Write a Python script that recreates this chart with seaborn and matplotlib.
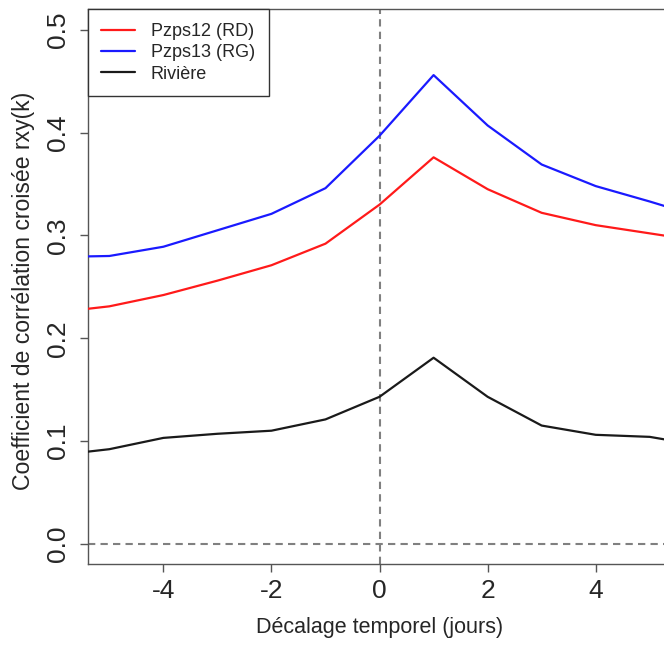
import numpy as np
import pandas as pd
import matplotlib
matplotlib.use('Agg')
import matplotlib.pyplot as plt
import seaborn as sns

# cross-correlation by lag (days)
lags = [-6, -5, -4, -3, -2, -1, 0, 1, 2, 3, 4, 5, 6]
pzps12 = [0.225, 0.231, 0.242, 0.256, 0.271, 0.292, 0.330, 0.376, 0.345, 0.322, 0.310, 0.302, 0.294]
pzps13 = [0.279, 0.280, 0.289, 0.305, 0.321, 0.346, 0.397, 0.456, 0.407, 0.369, 0.348, 0.333, 0.317]
riviere = [0.086, 0.092, 0.103, 0.107, 0.110, 0.121, 0.143, 0.181, 0.143, 0.115, 0.106, 0.104, 0.095]

series_names = ['Pzps12 (RD)', 'Pzps13 (RG)', 'Rivière']
series_colors = ['#ff1a1a', '#1a1aff', '#1a1a1a']
x_ticks = [-4, -2, 0, 2, 4]
y_ticks = [0.0, 0.1, 0.2, 0.3, 0.4, 0.5]

df = pd.concat([
    pd.DataFrame({'lag': lags, 'r': vals, 'serie': name})
    for name, vals in zip(series_names, [pzps12, pzps13, riviere])
])

sns.set_style("white")
plt.rcParams['font.family'] = ['Liberation Sans', 'DejaVu Sans']

fig = plt.figure(figsize=(6.64, 6.52), dpi=100)
ax = fig.add_axes([0.1321, 0.1345, 0.879, 0.8512])

# reference lines
ax.axhline(0, color='#808080', lw=1.5, dashes=(3.5, 2.5), zorder=1)
ax.axvline(0, color='#808080', lw=1.5, dashes=(3.5, 2.5), zorder=1)

sns.lineplot(data=df, x='lag', y='r', hue='serie', hue_order=series_names,
             palette=series_colors, lw=1.6, ax=ax, legend=False, zorder=3)

ax.set_xlim(-5.4, 5.4)
ax.set_ylim(-0.02, 0.52)
ax.set_xticks(x_ticks)
ax.set_xticklabels([f'{t:d}' for t in x_ticks])
ax.set_yticks(y_ticks)
ax.set_yticklabels([f'{t:.1f}' for t in y_ticks], rotation=90, va='center')

for sp in ax.spines.values():
    sp.set_color('#555555')
    sp.set_linewidth(1.0)
ax.tick_params(axis='both', direction='out', length=5.5, width=1.0,
               color='#555555', labelsize=19, left=True, bottom=True)
ax.tick_params(axis='x', pad=5)
ax.tick_params(axis='y', pad=7)

ax.set_xlabel('Décalage temporel (jours)', fontsize=15.5, labelpad=10)
ax.set_ylabel('Coefficient de corrélation croisée rxy(k)', fontsize=16.6)
ax.yaxis.set_label_coords(-0.0903, 0.4924)

handles = [plt.Line2D([], [], color=c, lw=1.6) for c in series_colors]
leg = ax.legend(handles, series_names, loc='upper left', bbox_to_anchor=(0, 1),
                borderaxespad=0, fancybox=False, edgecolor='#333333',
                fontsize=13, handlelength=1.85, handletextpad=0.9,
                borderpad=0.75, labelspacing=0.245, framealpha=1)
leg.get_frame().set_linewidth(1.0)

fig.savefig('out.png', dpi=100)
